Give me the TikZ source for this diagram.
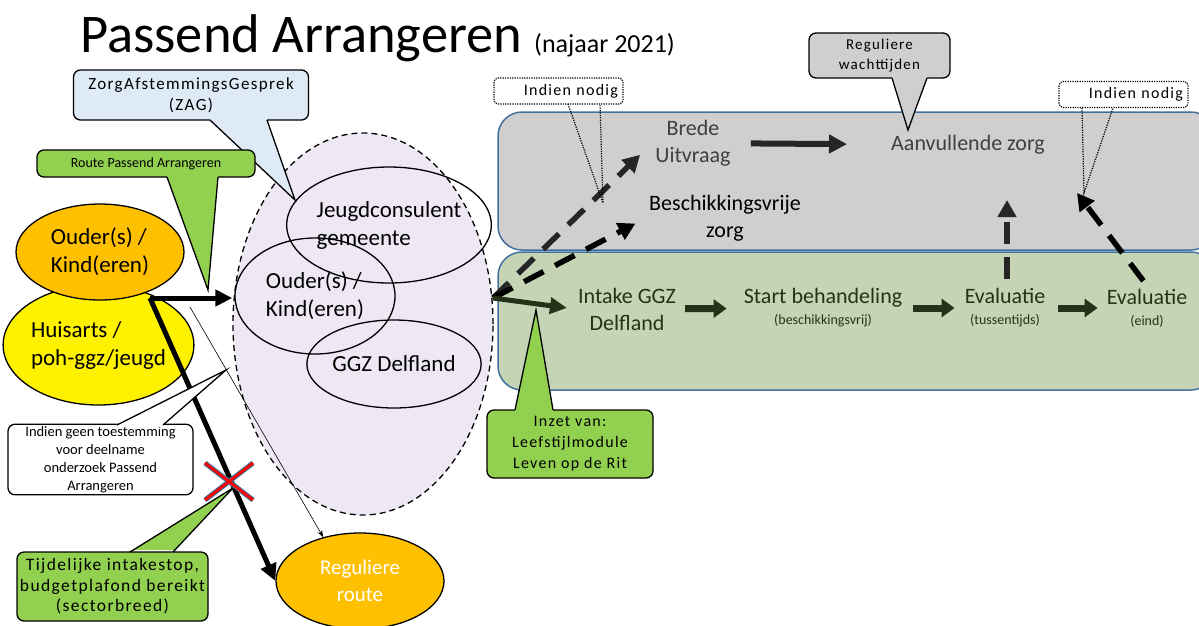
\documentclass[tikz,border=0pt]{standalone}
\usepackage{fontspec}
\setmainfont{Carlito}
\newfontfamily\spaced[LetterSpace=8]{Carlito}
\usetikzlibrary{arrows.meta,calc,shapes.geometric}

\definecolor{boxgray}{RGB}{208,206,206}
\definecolor{boxgreen}{RGB}{197,212,181}
\definecolor{rimblue}{RGB}{65,113,156}
\definecolor{lavendel}{RGB}{238,232,245}
\definecolor{zagblue}{RGB}{222,235,247}
\definecolor{callgreen}{RGB}{146,208,80}
\definecolor{oudercol}{RGB}{255,192,0}
\definecolor{darkgreen}{RGB}{38,50,24}
\definecolor{arrowgray}{RGB}{38,38,38}
\definecolor{textgray}{RGB}{64,64,64}

% kleine regel onder een stap
\newcommand\klein[1]{{\fontsize{14}{16}\selectfont #1}}
% punt van een ballon: vulling, basis a, punt, basis b, verschuiving de ballon in
\newcommand\pointer[5]{%
  \fill[#1] ($(#2)+(0,#5)$) -- (#2) -- (#3) -- (#4) -- ($(#4)+(0,#5)$) -- cycle;
  \draw[line width=1.3pt] (#2) -- (#3) -- (#4);}

\tikzset{
  lane/.style={draw=rimblue, line width=1.5pt, rounded corners=24pt},
  lanetext/.style={font=\fontsize{22}{27}\selectfont, align=center, inner sep=3pt},
  blob/.style={ellipse, draw, line width=1.3pt, inner sep=0pt, font=\fontsize{23}{28}\selectfont, align=left},
  bubble/.style={draw, line width=1.3pt, rounded corners=7pt, align=center, inner sep=2pt},
  hint/.style={draw, line width=1.2pt, dash pattern=on 1.2pt off 1.2pt, rounded corners=4pt,
    text width=119pt, inner xsep=5pt, align=right, minimum height=26pt, font=\spaced\fontsize{16}{19}\selectfont},
  heavy/.style={line width=5pt, -{Triangle[length=17pt,width=16pt]}},
  fine/.style={line width=0.6pt, -{Stealth[length=7pt,width=5pt]}},
  flow/.style={line width=7pt, darkgreen, -{Triangle[length=13pt,width=18pt]}},
  jump/.style={line width=6pt, arrowgray, -{Triangle[length=18pt,width=18pt]}},
  hop/.style={line width=5.5pt, dash pattern=on 22pt off 13pt, -{Triangle[length=17pt,width=18pt]}},
}

\begin{document}
\begin{tikzpicture}[x=1pt, y=-1pt]
\useasboundingbox (0,0) rectangle (1199,625);

% kop
\node[anchor=base west, inner sep=0pt, font=\fontsize{54.5}{60}\selectfont] (titel) at (80,52) {Passend Arrangeren};
\node[anchor=base west, inner sep=0pt, font=\fontsize{26}{30}\selectfont] (jaar) at (534,52) {(najaar 2021)};

% banen rechts
\draw[lane, fill=boxgray] (498,112) rectangle (1215,250);
\draw[lane, fill=boxgreen] (498,252) rectangle (1215,390);

% links
\node[blob, fill=yellow, minimum width=167pt, minimum height=120pt] (huisarts) at (98.5,345) {Huisarts /\\poh-ggz/jeugd};
\node[blob, fill=oudercol, minimum width=168pt, minimum height=96pt] (ouder) at (100,252) {Ouder(s) /\\Kind(eren)};
\node[blob, fill=oudercol, text=white, align=center, minimum width=168pt, minimum height=96pt, font=\fontsize{21}{27}\selectfont] (regulier) at (360,581) {Reguliere\\route};

% overleg
\node[ellipse, draw, fill=lavendel, line width=1.3pt, dash pattern=on 6pt off 4pt, minimum width=260pt, minimum height=382pt] (team) at (363,324) {};
\node[blob, minimum width=168pt, minimum height=116pt] (jeugd) at (389,225) {Jeugdconsulent\\gemeente};
\node[blob, minimum width=160pt, minimum height=116pt] (ouder2) at (315,296) {Ouder(s) /\\Kind(eren)};
\node[blob, minimum width=166pt, minimum height=88pt] (ggz) at (394,364) {GGZ Delfland};

% routes links
\coordinate (split) at (150,298);
\coordinate (thin) at (190,307);
\draw[heavy] (split) -- (split -| team.west);
\draw[heavy] (split) -- (regulier.west);
\draw[fine] (thin) -- (regulier.130);

% stappen
\node[lanetext, textgray] (brede) at (693,143) {Brede\\Uitvraag};
\node[lanetext, textgray] (aanv) at (968,145) {Aanvullende zorg};
\node[lanetext] (beschik) at (725,218) {Beschikkingsvrije\\zorg};
\node[lanetext, darkgreen] (intake) at (627,309) {Intake GGZ\\Delfland};
\node[lanetext, darkgreen] (start) at (823,308) {Start behandeling\\[-6pt]\klein{(beschikkingsvrij)}};
\node[lanetext, darkgreen] (eval1) at (1005,308) {Evaluatie\\[-6pt]\klein{(tussentijds)}};
\node[lanetext, darkgreen] (eval2) at (1147,308) {Evaluatie\\[-6pt]\klein{(eind)}};

\coordinate (out) at (493,298);
\coordinate (up1) at (1007,200);
\coordinate (up2) at (1077,193);
\draw[hop, arrowgray, shorten >=17pt] (out) -- (brede.west);
\draw[hop, black, shorten >=12pt] (out) -- (beschik.west);
\draw[line width=5pt, darkgreen, -{Triangle[length=17pt,width=16pt]}, shorten >=8pt] (out) -- (intake.west);
\draw[jump, shorten <=17pt, shorten >=41pt] (brede) -- (aanv);
\draw[flow, shorten <=6pt, shorten >=14pt] (intake) -- (start);
\draw[flow, shorten <=8pt, shorten >=7pt] (start) -- (eval1);
\draw[flow, shorten <=10pt, shorten >=6pt] (eval1) -- (eval2);
\draw[hop, arrowgray, shorten <=6pt] (eval1.north -| up1) -- (up1);
\draw[hop, black, shorten <=6pt] (eval2.north) -- (up2);

% ballonnen
\node[bubble, fill=zagblue, minimum width=235pt, minimum height=50pt, font=\spaced\fontsize{17}{21}\selectfont] (zag) at (191,95) {ZorgAfstemmingsGesprek\\(ZAG)};
\pointer{zagblue}{210,120}{295,200}{267,120}{-2}
\node[bubble, fill=callgreen, minimum width=218pt, minimum height=27pt, font=\fontsize{14}{16}\selectfont] (route) at (146,163.5) {Route Passend Arrangeren};
\pointer{callgreen}{167,177}{208,290}{218,177}{-2}
\node[bubble, fill=white, minimum width=185pt, minimum height=69pt, font=\fontsize{14.5}{18}\selectfont] (geen) at (100.5,459.5) {Indien geen toestemming\\voor deelname\\onderzoek Passend\\Arrangeren};
\pointer{white}{117,425}{226,370}{163,425}{2}
\node[bubble, fill=callgreen, minimum width=191pt, minimum height=69pt, font=\spaced\fontsize{17.5}{20.5}\selectfont] (stopbox) at (112.5,586.5) {Tijdelijke intakestop,\\budgetplafond bereikt\\(sectorbreed)};
\pointer{callgreen}{130,552}{233,488}{173,552}{-2}
\node[bubble, fill=callgreen, minimum width=166pt, minimum height=68pt, font=\spaced\fontsize{16}{21}\selectfont] (inzet) at (570,444) {Inzet van:\\Leefstijlmodule\\Leven op de Rit};
\pointer{callgreen}{515,410}{536,310}{553,410}{2}
\node[bubble, fill=boxgray, minimum width=141pt, minimum height=45pt, font=\spaced\fontsize{15}{20}\selectfont] (wacht) at (879.5,55.5) {Reguliere\\wachttijden};
\pointer{boxgray}{892,78}{908,130}{927,78}{-2}
\node[hint] (nodigA) at (558.5,91) {Indien nodig};
\draw[line width=1.2pt, dash pattern=on 1.2pt off 1.2pt] (568,104) -- (603,203) -- (600,104);
\node[hint] (nodigB) at (1123.5,94.5) {Indien nodig};
\draw[line width=1.2pt, dash pattern=on 1.2pt off 1.2pt] (1082,108) -- (1084,193) -- (1113,108);

% kruis over de route
\coordinate (stop) at (229,481);
\foreach \w/\c in {5pt/rimblue, 2.8pt/red} {
  \draw[line width=\w, \c] ($(stop)+(-24,-18)$) -- ($(stop)+(24,19)$);
  \draw[line width=\w, \c] ($(stop)+(-24,19)$) -- ($(stop)+(24,-18)$);
}
\end{tikzpicture}
\end{document}
